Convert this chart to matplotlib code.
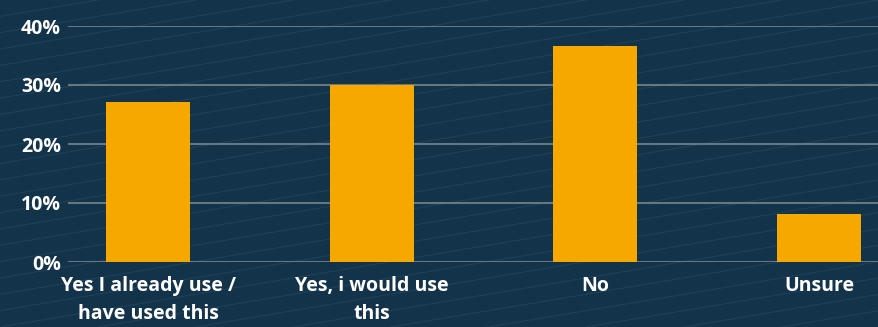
import numpy as np
import matplotlib.pyplot as plt

categories = ['Yes I already use /\nhave used this', 'Yes, i would use\nthis', 'No', 'Unsure']
values = [27.1, 30.0, 36.6, 8.1]
yticks = [0, 10, 20, 30, 40]

bg = '#13334a'
bar_color = '#f6a800'
grid_color = '#66777f'

plt.rcParams['font.family'] = ['Open Sans', 'DejaVu Sans']

fig = plt.figure(figsize=(8.79, 3.27), dpi=100, facecolor=bg)
ax = fig.add_axes([68 / 879, 1 - 262 / 327, (879 - 68) / 879, (262 - 26) / 327])
ax.set_facecolor('none')

# faint background texture lines
for k in range(-12, 30):
    fig.add_artist(plt.Line2D([0, 1], [k * 0.05 - 0.4, k * 0.05 + 0.05], transform=fig.transFigure,
                              color='#2c4d63', lw=0.8, alpha=0.5, zorder=-5))

x = np.arange(len(categories))
ax.bar(x, values, width=0.375, color=bar_color, zorder=3)

ax.set_xlim(-0.358, 3.268)
ax.set_ylim(0, 40)
ax.set_yticks(yticks)
ax.set_yticklabels([f'{v}%' for v in yticks])
ax.set_xticks(x)
ax.set_xticklabels(categories, linespacing=1.55, va='top')
ax.grid(axis='y', color=grid_color, lw=1.5, zorder=1)
ax.set_axisbelow(True)
for s in ax.spines.values():
    s.set_visible(False)
ax.tick_params(length=0, colors='white', labelsize=14)
ax.tick_params(axis='y', pad=5)
ax.tick_params(axis='x', pad=10)
for lbl in ax.get_xticklabels() + ax.get_yticklabels():
    lbl.set_fontweight('bold')
    lbl.set_color('white')

fig.savefig('out.png', dpi=100, facecolor=bg)
